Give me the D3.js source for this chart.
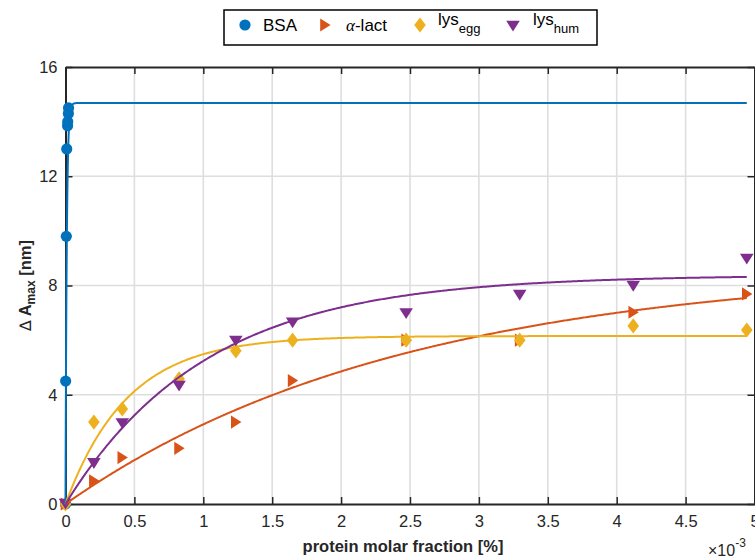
<!DOCTYPE html>
<html>
<head>
<meta charset="utf-8">
<script src="https://cdn.jsdelivr.net/npm/d3@7"></script>
<style>
  html, body { margin: 0; padding: 0; background: #fff; }
  svg { display: block; font-family: "Liberation Sans", Arial, Helvetica, sans-serif; }
</style>
</head>
<body>
<svg id="chart" width="755" height="557"></svg>
<script>
// Protein molar fraction, in units of 1e-3 %
const xLysAlpha = [0, 0.206, 0.412, 0.824, 1.236, 1.648, 2.472, 3.296, 4.12, 4.944];
const xBSA = [0, 0.001, 0.006, 0.009, 0.015, 0.016, 0.021, 0.022];

// ΔA_max [nm] per protein
const yBSA   = [0, 4.5, 9.8, 13.0, 13.85, 14.0, 14.3, 14.5];
const yLact  = [0, 0.85, 1.7, 2.04, 3.0, 4.52, 6.0, 6.0, 7.02, 7.69];
const yEgg   = [0, 3.0, 3.48, 4.58, 5.61, 6.0, 6.0, 6.0, 6.52, 6.37];
const yHum   = [0, 1.49, 2.95, 4.32, 5.97, 6.64, 6.98, 7.65, 7.98, 8.97];

// Saturation fits: A(x) = Amax * (1 - exp(-x / k))
const fitAmax = [14.68, 8.7, 6.15, 8.38];
const fitK    = [0.009, 2.45, 0.45, 1.02];
const fitXEnd = 4.944;

const seriesNames  = ["BSA", "α-lact", "lys_egg", "lys_hum"];
const seriesColors = ["#0072BD", "#D95319", "#EDB120", "#7E2F8E"];

const xTicks = [0, 0.5, 1, 1.5, 2, 2.5, 3, 3.5, 4, 4.5, 5];
const yTicks = [0, 4, 8, 12, 16];

const svg = d3.select("#chart");
const W = 755, H = 557;
svg.append("rect").attr("width", W).attr("height", H).attr("fill", "#fff");

const plot = { left: 65.5, right: 754.5, top: 67, bottom: 504 };
const x = d3.scaleLinear().domain([0, 5]).range([plot.left, plot.right]);
const y = d3.scaleLinear().domain([0, 16]).range([plot.bottom, plot.top]);

const axisColor = "#262626";

// grid
const grid = svg.append("g");
grid.selectAll("line.gx").data(xTicks.slice(1, -1)).join("line")
  .attr("x1", d => x(d)).attr("x2", d => x(d))
  .attr("y1", plot.top).attr("y2", plot.bottom)
  .attr("stroke", "#dedede").attr("stroke-width", 1.6);
grid.selectAll("line.gy").data(yTicks.slice(1, -1)).join("line")
  .attr("y1", d => y(d)).attr("y2", d => y(d))
  .attr("x1", plot.left).attr("x2", plot.right)
  .attr("stroke", "#dedede").attr("stroke-width", 1.6);

// axes (box with inward ticks on all sides)
const tickLen = 7;
const fmtX = d => String(d);
const axBottom = d3.axisBottom(x).tickValues(xTicks).tickFormat(fmtX).tickSizeInner(-tickLen).tickSizeOuter(0).tickPadding(11);
const axLeft = d3.axisLeft(y).tickValues(yTicks).tickFormat(d3.format("d")).tickSizeInner(-tickLen).tickSizeOuter(0).tickPadding(8);
const axTop = d3.axisTop(x).tickValues(xTicks).tickFormat("").tickSizeInner(-tickLen).tickSizeOuter(0);
const axRight = d3.axisRight(y).tickValues(yTicks).tickFormat("").tickSizeInner(-tickLen).tickSizeOuter(0);

function styleAxis(g) {
  g.select(".domain").attr("stroke", axisColor).attr("stroke-width", 2);
  g.selectAll(".tick line").attr("stroke", axisColor).attr("stroke-width", 1.5);
  g.selectAll(".tick text").attr("fill", axisColor).attr("font-size", 16.5)
    .attr("font-family", "Liberation Sans, Arial, sans-serif");
}
svg.append("g").attr("transform", `translate(0,${plot.bottom})`).call(axBottom).call(styleAxis);
svg.append("g").attr("transform", `translate(${plot.left},0)`).call(axLeft).call(styleAxis);
svg.append("g").attr("transform", `translate(0,${plot.top})`).call(axTop).call(styleAxis);
svg.append("g").attr("transform", `translate(${plot.right},0)`).call(axRight).call(styleAxis);

// marker shapes
function markerPath(kind) {
  switch (kind) {
    case 0: return d3.symbol(d3.symbolCircle, Math.PI * 5.6 * 5.6)();
    case 1: return "M-4.8,-6.6L5.6,0L-4.8,6.6Z";
    case 2: return "M0,-7.6L5.8,0L0,7.6L-5.8,0Z";
    case 3: return "M-6.8,-5.2L6.8,-5.2L0,5.6Z";
  }
}

const xs = [xBSA, xLysAlpha, xLysAlpha, xLysAlpha];
const ys = [yBSA, yLact, yEgg, yHum];

// data markers
ys.forEach((yv, i) => {
  const pts = yv.map((v, j) => ({ x: xs[i][j], y: v }));
  svg.append("g").selectAll("path").data(pts).join("path")
    .attr("d", markerPath(i))
    .attr("transform", d => `translate(${x(d.x)},${y(d.y)})`)
    .attr("fill", seriesColors[i]);
});

// fitted curves
const sampleX = d3.range(0, 0.1, 0.0005).concat(d3.range(0.1, fitXEnd, 0.01)).concat([fitXEnd]);
const line = d3.line().x(d => x(d[0])).y(d => y(d[1]));
fitAmax.forEach((A, i) => {
  const pts = sampleX.map(v => [v, A * (1 - Math.exp(-v / fitK[i]))]);
  svg.append("path").datum(pts)
    .attr("d", line)
    .attr("fill", "none")
    .attr("stroke", seriesColors[i])
    .attr("stroke-width", 2);
});

// axis labels
svg.append("text")
  .attr("x", 403).attr("y", 552)
  .attr("text-anchor", "middle")
  .attr("font-size", 16.5).attr("font-weight", "bold").attr("fill", axisColor)
  .text("protein molar fraction [%]");

const expo = svg.append("text").attr("x", 708).attr("y", 556).attr("fill", axisColor).attr("font-size", 16);
expo.append("tspan").text("×10");
expo.append("tspan").attr("dy", -9).attr("font-size", 12).text("-3");

const yl = svg.append("text")
  .attr("transform", `translate(31,${(plot.top + plot.bottom) / 2}) rotate(-90)`)
  .attr("text-anchor", "middle")
  .attr("font-size", 16.5).attr("fill", axisColor);
yl.append("tspan").attr("font-family", "DejaVu Sans, sans-serif").attr("font-size", 16).text("∆");
yl.append("tspan").attr("font-weight", "bold").text(" A");
yl.append("tspan").attr("font-weight", "bold").attr("font-size", 12).attr("dy", 4).text("max");
yl.append("tspan").attr("font-weight", "bold").attr("dy", -4).text(" [nm]");

// legend
const lg = svg.append("g");
lg.append("rect")
  .attr("x", 224).attr("y", 10).attr("width", 373).attr("height", 35)
  .attr("fill", "#fff").attr("stroke", "#000").attr("stroke-width", 1.5);

const legendMarkX = [245, 325, 420, 513];
const legendTextX = [263, 346, 438, 533];
legendMarkX.forEach((mx, i) => {
  lg.append("path").attr("d", markerPath(i))
    .attr("transform", `translate(${mx},${i === 3 ? 26 : 25})`)
    .attr("fill", seriesColors[i]);
});

const legendFont = 17;
lg.append("text").attr("x", legendTextX[0]).attr("y", 31).attr("font-size", legendFont).attr("fill", "#000").text(seriesNames[0]);

const t1 = lg.append("text").attr("x", legendTextX[1]).attr("y", 31).attr("font-size", legendFont).attr("fill", "#000");
t1.append("tspan").attr("font-family", "Liberation Serif, Times New Roman, serif").attr("font-style", "italic").text("α");
t1.append("tspan").text("-lact");

[2, 3].forEach(i => {
  const [base, sub] = seriesNames[i].split("_");
  const t = lg.append("text").attr("x", legendTextX[i]).attr("y", 25).attr("font-size", legendFont).attr("fill", "#000");
  t.append("tspan").text(base);
  t.append("tspan").attr("dy", 8).attr("font-size", 13).text(sub);
});
</script>
</body>
</html>
